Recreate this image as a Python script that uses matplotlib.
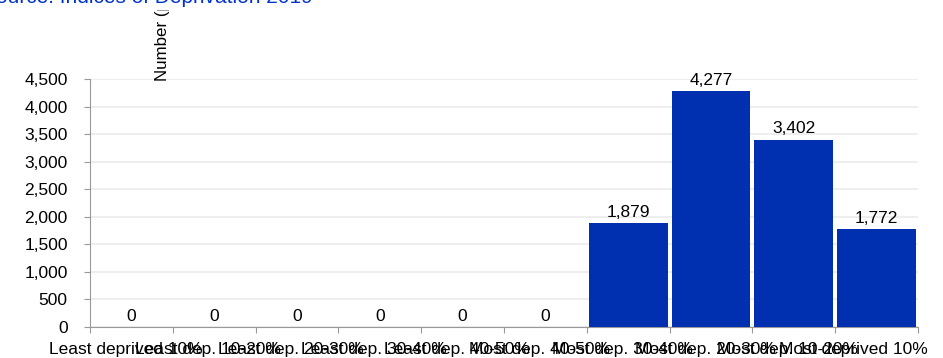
import matplotlib
matplotlib.use("Agg")
import matplotlib.pyplot as plt
import matplotlib.transforms as mtransforms
from matplotlib.patches import Rectangle
from matplotlib.ticker import FuncFormatter, FixedLocator
import numpy as np

plt.rcParams['font.family'] = ['Liberation Sans', 'DejaVu Sans']

# deprivation deciles and counts
categories = ["Least deprived 10%", "Least dep. 10-20%", "Least dep. 20-30%",
              "Least dep. 30-40%", "Least dep. 40-50%", "Most dep. 40-50%",
              "Most dep. 30-40%", "Most dep. 20-30%", "Most dep. 10-20%",
              "Most deprived 10%"]
counts = [0, 0, 0, 0, 0, 0, 1879, 4277, 3402, 1772]
y_ticks = [0, 500, 1000, 1500, 2000, 2500, 3000, 3500, 4000, 4500]

W, H = 943, 358
fig = plt.figure(figsize=(W / 100, H / 100), dpi=100)
ax = fig.add_axes([90 / W, 1 - 327 / H, (918 - 90) / W, (327 - 79) / H])

x = np.arange(len(categories))
ax.bar(x, counts, width=0.95, color='#0030B0', zorder=3)

for xi, v in zip(x, counts):
    ax.annotate(f"{v:,}", (xi, v), xytext=(0, 4.5), textcoords='offset points',
                ha='center', va='baseline', fontsize=12.5, color='black')

ax.set_xlim(-0.5, len(categories) - 0.5)
ax.set_ylim(0, 4500)
ax.set_yticks(y_ticks)
ax.yaxis.set_major_formatter(FuncFormatter(lambda v, p: f"{int(v):,}"))
ax.yaxis.grid(True, color='#EEEEEE', linewidth=1.5, zorder=0)

# Excel style: ticks between categories, labels drawn separately
ax.xaxis.set_major_locator(FixedLocator(np.arange(len(categories) + 1) - 0.5))
ax.set_xticklabels([])
ax.tick_params(axis='x', which='major', length=4, color='#999999', direction='out')
ax.tick_params(axis='y', length=4, color='#999999', labelsize=12.5, pad=12)

# category labels (they overlap like in the source, last one pushed inside)
trans = ax.get_xaxis_transform()
for i, lab in enumerate(categories):
    if i == len(categories) - 1:
        off = mtransforms.ScaledTranslation(10 / 100, -27 / 100, fig.dpi_scale_trans)
        ax.text(1.0, 0, lab, transform=ax.transAxes + off, ha='right',
                va='baseline', fontsize=12.5)
    else:
        off = mtransforms.ScaledTranslation(-6 / 100, -27 / 100, fig.dpi_scale_trans)
        ax.text(i, 0, lab, transform=trans + off, ha='center',
                va='baseline', fontsize=12.5)

for s in ['top', 'right']:
    ax.spines[s].set_visible(False)
for s in ['left', 'bottom']:
    ax.spines[s].set_color('#999999')

# y label sits in the plot area, title box clips it at the top
fig.text(163 / W, 1 - 81 / H, "Number (people)", rotation=90, ha='center',
         va='bottom', fontsize=12.2, color='black', zorder=4)
fig.add_artist(Rectangle((0, 1 - 10 / H), 1, 10 / H, transform=fig.transFigure,
                         facecolor='white', edgecolor='none', zorder=5))
fig.text(313 / W, 1 - 3 / H, "Source: Indices of Deprivation 2019", ha='right',
         va='baseline', fontsize=15, color='#0033CC', zorder=6)

fig.savefig("out.png", dpi=100)
